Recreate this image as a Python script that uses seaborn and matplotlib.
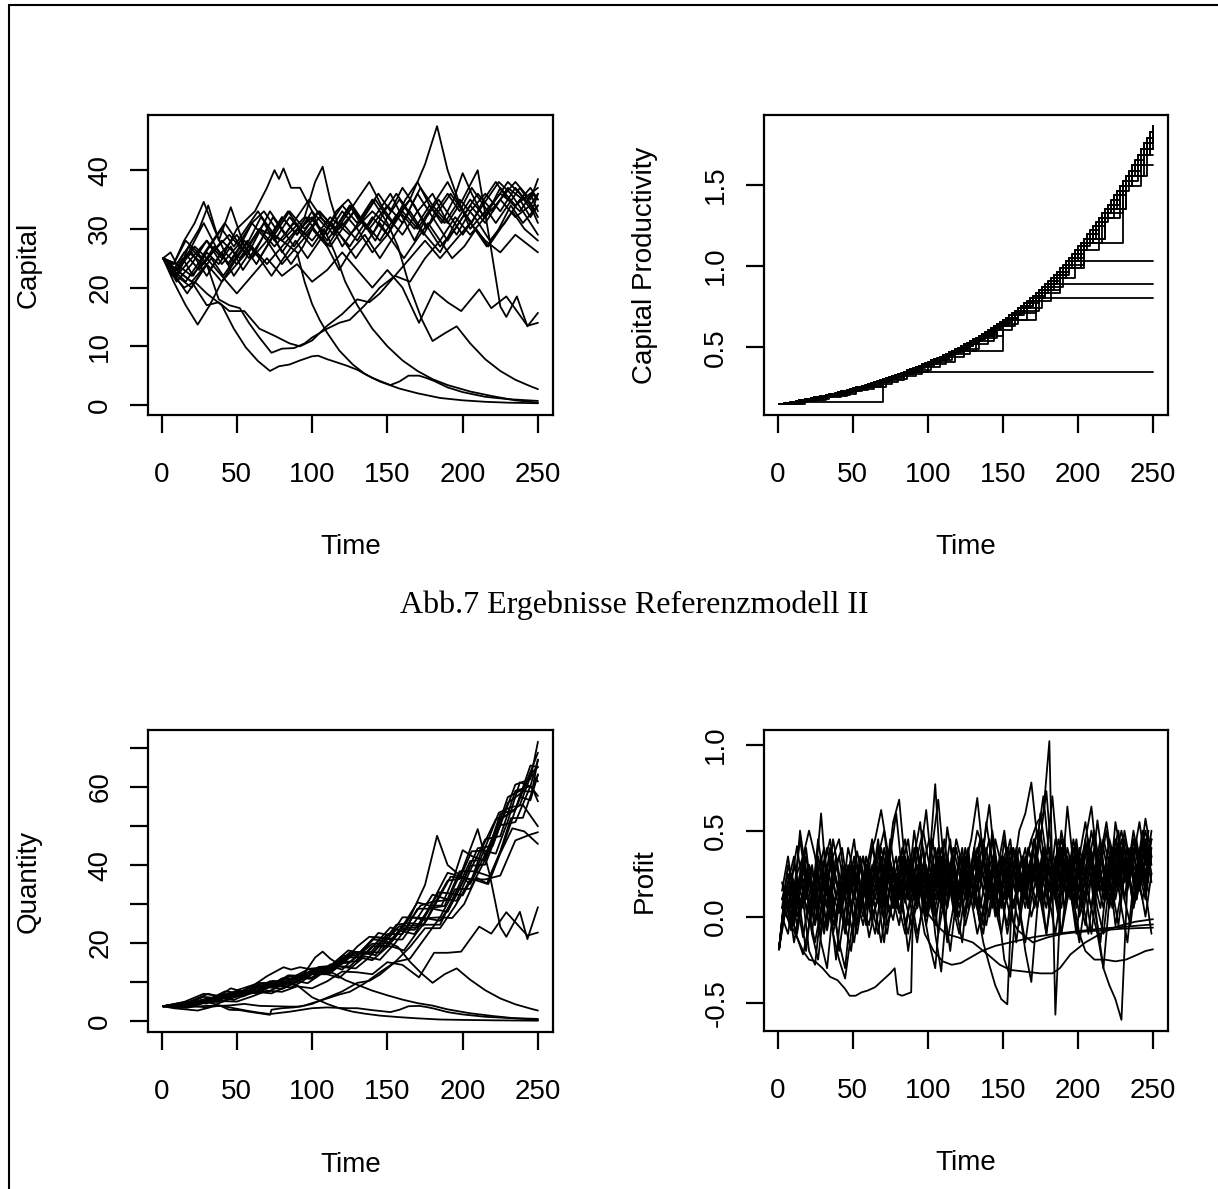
import matplotlib
matplotlib.use('Agg')
import pandas as pd
import matplotlib.pyplot as plt
import seaborn as sns
from matplotlib.lines import Line2D

sns.set_theme(style='ticks')
plt.rcParams['font.family'] = ['Liberation Sans', 'DejaVu Sans']

# ---- Capital, one list of (time, value) vertices per firm ----
capital_paths = [
    [(1,25),(8,22.5),(18,26),(28,24),(40,28),(52,25),(65,30),(75,27),(88,31),(100,28),(112,32),(125,29),(140,33),(152,30),(165,35),(175,41),(183,47.5),(190,40),(197,35),(205,30),(215,33),(225,36),(235,34),(245,37),(250,35)],
    [(1,25),(10,21),(20,24),(30,28),(40,25),(50,30),(62,33),(70,37),(75,40),(78,38.5),(81,40.3),(86,37),(92,37),(100,33),(110,27),(118,23),(125,26),(135,29),(145,25),(155,29),(165,33),(175,29),(185,26),(195,31),(205,35),(215,32),(225,37),(235,34),(245,36),(250,33)],
    [(1,25),(10,23),(22,27),(30,25),(45,29),(55,26),(65,30),(80,28),(95,32),(102,38),(107,40.6),(112,35),(118,30),(128,33),(138,30),(150,34),(160,31),(170,36),(180,32),(190,28),(200,32),(210,36),(220,33),(230,37),(240,35),(250,37)],
    [(1,25),(8,24),(15,28),(22,31),(28,34.6),(35,30),(42,26),(50,24),(58,27),(68,31),(75,28),(85,32),(95,29),(105,32),(115,30),(125,34),(132,31),(142,35),(150,32),(160,29),(170,33),(180,36),(188,32),(196,29),(205,33),(215,36),(225,33),(235,37),(245,34),(250,36)],
    [(1,25),(10,22),(18,27),(25,30),(31,34),(38,28),(46,33.7),(55,27),(63,24),(72,28),(80,32),(90,29),(98,32),(110,29),(120,33),(130,30),(140,26),(150,29),(158,33),(168,30),(178,34),(188,31),(198,35),(208,32),(218,28),(228,31),(238,35),(245,32),(250,34)],
    [(1,25),(8,21),(16,17),(24,13.7),(32,17),(40,21),(50,25),(58,28),(66,32),(75,29),(85,33),(95,30),(105,33),(115,30),(125,27),(135,31),(145,28),(155,32),(165,35),(175,31),(185,27),(195,30),(205,34),(215,31),(225,35),(235,38),(245,35),(250,38.5)],
    [(1,25),(10,23),(20,26),(30,22),(40,26),(50,29),(60,25),(70,28),(80,24),(90,27),(100,30),(110,27),(120,31),(130,28),(140,32),(150,29),(160,33),(170,30),(180,34),(190,31),(200,35),(210,40),(218,28),(225,16.8),(229,15),(236,18.5),(243,13.4),(250,15.7)],
    [(1,25),(10,24),(20,22),(30,25),(40,22),(50,19),(60,22),(70,25),(80,22),(90,24),(100,21),(110,23),(120,26),(130,23),(140,20),(150,23),(160,20),(171,14),(181,19.4),(190,17.5),(199,16),(211,19.7),(219,16.5),(229,18.5),(243,13.5),(250,14)],
    [(1,25),(10,22),(20,25),(30,28),(40,24),(50,27),(60,31),(70,28),(80,32),(90,29),(100,33),(110,30),(120,34),(130,31),(140,35),(150,31),(157,27),(165,20),(173,14.5),(180,10.9),(188,12.2),(196,13.4),(205,10.5),(215,7.8),(225,5.8),(235,4.3),(245,3.2),(250,2.7)],
    [(1,25),(8,23),(15,26),(25,23),(35,27),(45,24),(55,28),(65,25),(75,29),(85,27),(90,26),(95,21),(100,17.2),(105,14.5),(110,12.3),(118,9.3),(127,6.9),(135,5.3),(145,4),(158,2.8),(170,2),(185,1.2),(200,0.8),(215,0.55),(230,0.4),(250,0.3)],
    [(1,25),(8,22),(15,20),(22,21),(30,19),(40,17),(48,13),(56,9.8),(64,7.5),(72,5.8),(78,6.6),(85,6.9),(92,7.6),(100,8.3),(104,8.4),(110,7.8),(116,7.3),(123,6.7),(130,6.0),(140,4.6),(152,3.4),(158,4.0),(164,5.0),(171,5.0),(176,4.6),(181,4.1),(190,3.0),(200,2.2),(215,1.4),(230,1.0),(250,0.7)],
    [(1,25),(10,23),(20,21),(30,24),(40,21),(50,24),(60,27),(70,24),(80,27),(90,30),(100,27),(108,30),(115,26),(122,21),(130,17),(140,13),(150,10),(160,7.6),(170,5.8),(180,4.4),(190,3.4),(205,2.3),(220,1.5),(235,0.8),(250,0.4)],
    [(1,25),(10,22),(20,20),(30,24),(38,18),(45,17),(52,16.5),(58,14),(65,11.5),(73,8.9),(80,9.6),(88,9.7),(95,10.5),(100,11.5),(110,13),(118,14),(125,14.5),(135,17),(145,20),(155,22),(165,25),(175,28),(185,25),(195,28),(205,31),(215,28),(225,26),(235,29),(245,27),(250,26)],
    [(1,25),(10,23),(20,21),(30,17),(38,17.5),(45,16),(55,16),(65,13),(75,11.8),(85,10.5),(92,10),(100,11),(110,13.5),(120,15.5),(130,18),(138,17.5),(145,19),(155,22),(165,21),(175,25),(185,28),(195,32),(205,29),(215,32),(225,35),(235,32),(245,34),(250,31)],
    [(1,25),(6,26),(12,23),(20,27),(28,31),(36,27),(44,24),(52,27),(60,31),(68,33),(76,30),(84,33),(92,30),(100,32),(108,29),(116,33),(124,35),(132,32),(140,29),(148,33),(156,36),(164,33),(172,37),(180,34),(190,38),(198,34),(206,31),(214,35),(222,38),(230,35),(238,33),(246,36),(250,35)],
    [(1,25),(8,23),(16,21),(24,24),(32,27),(40,30),(48,27),(56,30),(64,33),(72,30),(80,26),(88,29),(96,32),(104,29),(112,27),(120,30),(128,33),(136,30),(144,33),(152,36),(160,32),(168,28),(176,32),(184,35),(192,32),(200,29),(208,32),(216,35),(224,38),(232,36),(240,33),(250,29)],
    [(1,25),(7,22),(14,25),(21,22),(30,26),(38,24),(46,27),(54,23),(62,26),(70,30),(78,27),(86,24),(94,27),(102,31),(110,28),(118,31),(126,34),(134,31),(142,28),(150,32),(158,35),(166,32),(174,29),(182,33),(190,36),(198,33),(206,37),(214,34),(222,31),(230,34),(238,37),(246,34),(250,32)],
    [(1,25),(10,24),(18,27),(26,25),(34,28),(42,31),(50,28),(58,25),(66,28),(74,32),(82,29),(90,32),(98,35),(106,32),(114,29),(122,32),(130,35),(138,38),(146,34),(154,31),(162,35),(170,38),(178,34),(186,31),(194,35),(200,39.5),(206,36),(214,32),(222,35),(230,38),(238,36),(246,33),(250,36)],
    [(1,25),(9,22),(17,19),(25,22),(33,25),(41,22),(49,25),(57,28),(65,25),(73,22),(81,25),(89,28),(97,25),(105,28),(113,31),(121,28),(129,25),(137,28),(145,31),(153,28),(161,25),(169,28),(177,31),(185,28),(193,25),(201,27),(209,30),(217,27),(225,30),(233,33),(241,30),(250,28)],
    [(1,25),(8,24),(16,28),(24,26),(32,23),(40,26),(48,22),(56,25),(64,29),(72,33),(80,30),(88,27),(96,30),(104,33),(112,31),(120,27),(128,30),(136,33),(144,36),(152,33),(160,37),(168,34),(176,30),(184,33),(192,36),(200,33),(208,30),(216,27),(224,30),(232,34),(240,31),(250,34)],
]

# ---- Quantity, same firms ----
quantity_paths = [
    [(1,3.8),(18,4.7),(40,6.5),(52,6.7),(65,8.9),(75,8.8),(88,11.3),(100,11.2),(112,14.5),(125,15.0),(140,19.8),(152,20.0),(165,26.6),(175,34.9),(183,47.5),(190,40),(197,37.7),(205,35.1),(215,42.7),(225,51.7),(235,54.2),(245,65.5),(250,65.1)],
    [(1,3.8),(20,4.4),(30,5.7),(40,5.8),(50,7.9),(62,9.4),(70,11.5),(81,13.8),(86,13.2),(92,13.8),(100,13.2),(110,12.0),(118,11.1),(125,13.4),(135,16.6),(145,15.7),(155,19.9),(165,25.1),(175,24.7),(185,24.7),(195,32.7),(205,41),(215,41.4),(225,53.1),(235,54.2),(245,63.7),(250,61.4)],
    [(1,3.8),(22,5.1),(30,5.1),(45,7.2),(55,7.1),(65,8.9),(80,9.5),(95,12.3),(102,16.3),(107,17.8),(112,16.0),(118,14.5),(128,17.6),(138,17.2),(150,22.3),(160,22.3),(170,28.8),(180,28.8),(190,28),(200,35.5),(210,44.3),(220,44.9),(230,55.9),(240,58.8),(250,68.8)],
    [(1,3.8),(15,4.9),(28,7.0),(42,6.2),(50,6.3),(58,7.7),(68,9.2),(75,9.1),(85,11.4),(95,11.2),(105,13.5),(115,14.0),(125,17.6),(132,17.7),(142,21.5),(150,21),(160,20.9),(170,26.4),(180,32.4),(188,31.4),(196,30.8),(205,38.6),(215,46.6),(225,47.4),(235,59),(245,60.2),(250,67)],
    [(1,3.8),(18,4.9),(31,7.0),(38,6.3),(46,8.4),(55,7.4),(63,7.1),(72,8.8),(80,10.9),(90,10.7),(98,12.3),(110,12.9),(120,16.2),(130,16.4),(140,15.6),(150,19),(158,23.4),(168,23.4),(178,28.9),(188,29.5),(198,38.4),(208,38.4),(218,37.1),(228,46.2),(238,57.5),(245,56.6),(250,63.2)],
    [(1,3.8),(8,3.3),(16,3.0),(24,2.7),(32,3.5),(40,4.9),(50,6.6),(58,7.9),(66,9.6),(75,9.4),(85,11.7),(95,11.6),(105,13.9),(115,14),(125,14),(135,17.7),(145,17.6),(155,22),(165,26.6),(175,26.4),(185,25.7),(195,31.7),(205,39.8),(215,40.1),(225,50.2),(235,60.6),(245,62),(250,71.6)],
    [(1,3.8),(20,4.8),(30,4.5),(40,6),(50,7.6),(60,7.1),(70,8.7),(80,8.2),(90,10),(100,12),(110,12),(120,15.2),(130,15.3),(140,19.2),(150,19),(160,23.8),(170,24),(180,30.6),(190,31),(200,38.9),(210,49.2),(218,37.5),(225,24.1),(229,21.6),(238,28),(243,21),(250,29.2)],
    [(1,3.8),(20,4.1),(30,5.1),(40,5.1),(50,5),(60,6.3),(70,7.8),(80,7.5),(90,8.9),(100,8.4),(110,10.2),(120,12.7),(130,12.5),(140,12),(150,15.1),(160,14.4),(171,11.2),(181,17.5),(190,17.5),(199,17.8),(211,24.2),(219,22.4),(229,27.9),(243,21.9),(250,22.7)],
    [(1,3.8),(10,3.7),(20,4.6),(30,5.7),(40,5.6),(50,7.1),(60,8.8),(70,8.7),(80,10.9),(90,10.7),(100,13.2),(110,13.4),(120,16.7),(130,16.9),(140,21),(150,20.3),(157,19),(165,15.2),(173,12.1),(180,9.8),(188,12),(196,13.5),(205,10.6),(215,7.9),(225,5.8),(235,4.3),(245,3.2),(250,2.7)],
    [(1,3.8),(15,4.6),(25,4.5),(35,5.9),(45,5.9),(55,7.6),(65,7.4),(75,9.4),(85,9.6),(90,9.2),(100,6.1),(110,4.4),(118,3.3),(127,2.4),(135,1.9),(145,1.4),(158,1.0),(170,0.7),(185,0.4),(200,0.3),(220,0.2),(250,0.1)],
    [(1,3.8),(15,3.5),(30,3.9),(40,3.9),(48,3.3),(56,2.7),(64,2.2),(72,1.8),(85,2.4),(100,3.3),(110,3.5),(123,3.3),(130,3.3),(140,2.8),(152,2.3),(158,2.9),(164,3.8),(171,3.9),(176,3.6),(181,3.2),(190,2.3),(200,1.7),(215,1.1),(230,0.8),(250,0.55)],
    [(1,3.8),(20,3.9),(30,4.9),(40,4.9),(50,6.3),(60,7.7),(70,7.4),(80,9.2),(90,11.1),(100,10.8),(108,13.1),(115,12.1),(122,10.5),(130,9.3),(140,7.8),(150,6.6),(160,5.5),(170,4.6),(180,3.96),(190,3.0),(205,2.0),(220,1.3),(235,0.7),(250,0.35)],
    [(1,3.8),(10,3.7),(20,3.7),(30,4.9),(38,4.1),(45,2.9),(52,2.8),(58,2.4),(65,2.0),(72,1.6),(73,2.9),(80,3.3),(88,3.5),(95,4.0),(100,4.6),(110,5.8),(118,6.8),(125,7.5),(135,9.7),(145,12.5),(155,15.1),(165,19),(175,23.8),(185,23.8),(195,29.5),(205,36.3),(215,36.3),(225,37.3),(235,46.3),(245,47.8),(250,48.4)],
    [(1,3.8),(10,3.9),(20,3.9),(30,3.5),(38,3.9),(45,4.0),(55,4.4),(65,3.9),(75,3.8),(85,3.7),(92,3.7),(100,4.4),(110,6.0),(120,7.6),(130,9.8),(138,10.3),(145,11.9),(155,15.1),(165,16),(175,21.3),(185,26.6),(195,33.8),(205,33.9),(215,41.4),(225,50.2),(235,51),(245,60.2),(250,57.7)],
    [(1,3.8),(12,4.0),(20,5.0),(28,6.2),(36,5.9),(44,5.9),(52,7.2),(60,8.8),(68,9.8),(76,9.8),(84,11.7),(92,11.3),(100,12.8),(108,12.9),(116,15.4),(124,18.1),(132,17.5),(140,17.4),(148,20.7),(156,24.7),(164,25.1),(172,29.6),(180,30.6),(190,38),(198,37.1),(206,36.3),(214,45.3),(222,51.7),(230,52.9),(238,55.4),(246,63.7),(250,65.1)],
    [(1,3.8),(16,3.7),(24,4.7),(32,5.7),(40,7.0),(48,6.6),(56,8.2),(64,9.8),(72,9.5),(80,8.8),(88,10.6),(96,12.4),(104,12.2),(112,12.3),(120,14.7),(128,17.3),(136,17.3),(144,20.6),(152,24),(160,23),(168,22.3),(176,27.4),(184,33),(192,32.7),(200,32.2),(208,37.9),(216,45.5),(224,53.4),(232,54.8),(240,55.4),(250,49.9)],
    [(1,3.8),(14,4.4),(21,4.1),(30,5.3),(38,5.4),(46,6.7),(54,6.3),(62,7.5),(70,9.3),(78,9.0),(86,8.6),(94,10.3),(102,12.8),(110,12.5),(118,14.8),(126,17.7),(134,17.5),(142,16.9),(150,21),(158,24.3),(166,24.5),(174,24.5),(182,30.5),(190,36),(198,36.4),(206,43.5),(214,43.7),(222,42.9),(230,51.3),(238,61.2),(246,60),(250,56.3)],
    [(1,3.8),(10,4.0),(18,4.9),(26,4.9),(34,6.0),(42,7.6),(50,7.3),(58,7.0),(66,8.4),(74,10.3),(82,9.8),(90,11.8),(98,13.4),(106,13.7),(114,13.4),(122,15.8),(130,19.1),(138,21.6),(146,21.4),(154,21.1),(162,25.5),(170,30.4),(178,29.6),(186,29.6),(194,36.7),(200,43.8),(206,42.3),(214,41.2),(222,48.3),(230,57.4),(238,59),(246,58.8),(250,67)],
    [(1,3.8),(9,3.7),(17,3.4),(25,4.3),(33,5.4),(41,5.2),(49,6.5),(57,7.8),(65,7.4),(73,7.1),(81,8.5),(89,10.3),(97,9.7),(105,11.8),(113,14.4),(121,13.8),(129,13.5),(137,16),(145,19.4),(153,19.1),(161,18.1),(169,22.4),(177,26.4),(185,26.6),(193,26.4),(201,30),(209,36.8),(217,35.1),(225,43),(233,49.4),(241,48.6),(250,45.4)],
    [(1,3.8),(16,4.9),(24,5.1),(32,4.9),(40,6.0),(48,5.4),(56,6.8),(64,8.6),(72,10.2),(80,10.2),(88,9.8),(96,11.5),(104,13.8),(112,14.1),(120,13.2),(128,16.2),(136,18.9),(144,22.6),(152,21.9),(160,26.6),(168,26.5),(176,25.8),(184,31.4),(192,37),(200,36.6),(208,36.2),(216,35.2),(224,42.3),(232,52),(240,52.1),(250,63.2)],
]

# ---- Capital productivity: best-practice level (t = 1, 2, 4, ..., 250) and each firm's update times ----
prod_time = [1] + list(range(2, 251, 2))
prod_level = [
    0.1520, 0.1535, 0.1566, 0.1598, 0.1631, 0.1664, 0.1698, 0.1732, 0.1767, 0.1803,
    0.1840, 0.1877, 0.1916, 0.1955, 0.1994, 0.2035, 0.2076, 0.2118, 0.2161, 0.2205,
    0.2250, 0.2296, 0.2343, 0.2390, 0.2439, 0.2489, 0.2540, 0.2591, 0.2644, 0.2698,
    0.2753, 0.2809, 0.2866, 0.2924, 0.2984, 0.3044, 0.3106, 0.3170, 0.3234, 0.3300,
    0.3367, 0.3436, 0.3505, 0.3577, 0.3649, 0.3724, 0.3799, 0.3876, 0.3955, 0.4036,
    0.4110, 0.4190, 0.4270, 0.4350, 0.4435, 0.4520, 0.4610, 0.4700, 0.4790, 0.4885,
    0.4980, 0.5075, 0.5175, 0.5275, 0.5380, 0.5485, 0.5595, 0.5705, 0.5820, 0.5935,
    0.6055, 0.6175, 0.6300, 0.6425, 0.6555, 0.6685, 0.6820, 0.6960, 0.7100, 0.7245,
    0.7395, 0.7545, 0.7700, 0.7860, 0.8020, 0.8185, 0.8355, 0.8530, 0.8710, 0.8890,
    0.9075, 0.9265, 0.9460, 0.9660, 0.9865, 1.0075, 1.0290, 1.0510, 1.0735, 1.0965,
    1.1200, 1.1440, 1.1685, 1.1935, 1.2190, 1.2454, 1.2707, 1.2965, 1.3229, 1.3498,
    1.3772, 1.4052, 1.4337, 1.4628, 1.4926, 1.5229, 1.5538, 1.5854, 1.6176, 1.6505,
    1.6840, 1.7182, 1.7531, 1.7888, 1.8251, 1.8622,
]
prod_updates = [
    [1,8,16,22,30,38,44,52,60,68,76,84],
    [1,6,14,24,32,40,50,58,66,74,82,92,100,108,116,124,132,140,148,156,164,168],
    [1,10,18,26,36,44,54,62,70,80,88,96,106,114,122,130,138,146,154,160,168,178],
    [1,4,12,20,28,34,42,50,56,64,72,78,86,94,102,110,118,126,134,142,150,158,166,174,182,192],
    [1,10,70,76,84,92,100,108,114,122,130,138,146,152,160,168,176,184,192,198,206,214,220,228,236,242,250],
    [1,8,18,28,36,46,54,62,70,78,86,94,102,110,116,150,172,180,188,196,204,212,220,228,236,244,250],
    [1,6,16,24,34,42,50,60,68,76,86,94,102,112,120,128,136,144,152,160,168,176,184,192,202,230,236],
    [1,4,10,16,22,28,34,40,46,52,58,64,70,76,82,88,94,100,106,112,118,124,130,136,142,148,154,
     160,166,172,178,184,190,196,202,208,214,220,226,232,240],
    [1,8,14,20,26,32,40,48,56,62,68,74,80,88,96,104,110,116,122,128,136,144,150,156,162,170,178,
     186,194,200,206,212,218,224,230,236,242],
    [1,12,22,30,38,46,54,64,72,80,90,98,104,112,118,126,134,142,148,154,162,170,178,186,194,202,
     210,216,222,228,234,240,246],
    [1,6,12,18,24,30,36,42,48,54,60,66,72,78,84,90,96,102,108,114,120,126,132,138,144,150,156,162,
     168,174,180,186,192,198,204,210,216,222,228,234,238,242,246,250],
    [1,10,20,30,40,52,72,80,88,96,104,112,120,128,136,146,154,162,170,178,186,194,202,210,218,226,
     234,242,248,250],
    [1,4,14,24,34,44,54,64,74,84,94,104,114,124,134,144,154,164,174,184,194,204,214,224,232,240,248,250],
    [1,6,14,22,30,40,48,56,64,72,80,88,96,104,112,120,128,136,144,152,160,168,176,184,192,200,208,
     214,220,226,232,238,244,250],
    [1,2,8,16,24,32,40,48,56,64,72,80,86,92,98,104,110,116,122,128,134,140,146,152,158,164,170,176,
     182,188,194,200,206,212,218,224,230,236,240,244,248,250],
    [1,14,30,46,60,76,92,108,124,140,156,172,188,204,218,232,246],
    [1,18,34,52,68,84,100,118,134,150,166,182,198,214,228,242],
    [1,12,26,42,56,70,86,102,116,132,146,160,176,190,204,218,232,244,250],
    [1,16,32,48,64,80,96,112,128,144,158,174,188,202,216,230,240,248],
]

# ---- Profit: noisy firms on two interleaved 4-step grids, plus the slowly drifting loss makers ----
profit_time = list(range(1, 250, 4))
profit_time_b = list(range(3, 250, 4))
profit_noisy = [
    [-0.19,0.12,0.18,0.05,0.22,0.10,-0.05,0.15,0.30,0.12,0.02,0.20,0.08,-0.10,0.12,0.25,0.10,0.35,0.18,0.05,
     0.22,0.10,-0.05,0.15,0.30,0.20,0.05,0.25,0.12,0.30,0.18,0.02,0.22,0.35,0.15,0.28,0.10,0.30,0.20,0.38,
     0.15,0.30,0.45,0.55,0.60,1.02,-0.57,0.20,0.35,0.15,0.30,0.42,0.20,0.35,0.10,0.30,0.45,0.25,0.40,0.20,
     0.35,0.50,0.30],
    [-0.19,0.15,0.25,0.10,0.30,0.05,0.20,0.60,0.15,-0.10,0.10,0.25,0.05,0.20,0.35,0.12,0.28,0.05,0.30,0.15,
     0.02,0.25,0.35,0.10,0.22,0.05,0.30,0.15,0.35,0.20,0.05,0.30,0.45,0.69,0.35,0.15,0.30,0.05,0.25,0.40,
     0.20,0.05,0.30,0.15,0.35,0.25,0.10,0.40,0.25,0.05,0.30,0.20,0.38,0.15,0.30,0.05,0.25,0.40,0.15,0.35,
     0.20,0.45,0.25],
    [-0.19,0.10,0.20,0.41,0.15,-0.05,0.10,0.25,0.05,0.30,0.15,-0.05,0.20,0.30,0.10,0.25,0.05,0.20,0.40,0.25,
     0.10,0.30,0.15,0.35,0.50,0.30,0.77,0.20,0.05,0.30,0.15,0.40,0.20,0.05,0.30,0.45,0.20,0.35,0.10,0.25,
     0.40,0.20,0.35,0.15,0.40,0.30,0.15,0.35,0.20,0.45,0.25,0.10,0.35,0.20,0.45,0.30,0.15,0.40,0.25,0.50,
     0.30,0.15,0.40],
    [-0.19,0.14,0.05,0.25,0.35,0.50,0.35,0.10,-0.05,0.20,0.35,0.15,0.30,0.05,0.20,0.35,0.45,0.62,0.40,0.20,
     0.35,0.10,0.25,0.40,0.15,0.30,0.10,0.35,0.20,0.40,0.25,0.10,0.30,0.15,0.35,0.20,0.05,0.30,0.40,0.25,
     0.50,0.60,0.78,0.45,0.70,0.35,0.25,0.45,0.30,0.15,0.40,0.25,0.50,0.30,0.20,0.45,0.30,0.15,0.40,0.35,
     0.55,0.30,0.45],
    [-0.19,0.10,-0.05,0.15,0.05,0.25,0.10,-0.10,0.20,0.35,0.45,0.20,0.05,0.25,0.10,0.30,0.15,0.40,0.25,0.55,
     0.68,0.30,0.10,0.25,0.05,0.30,0.15,0.40,0.25,0.10,0.35,0.20,0.30,0.50,0.40,0.65,0.30,0.15,0.35,0.20,
     0.05,0.30,0.45,0.25,0.10,0.35,0.20,0.50,0.30,0.10,0.35,0.55,0.30,0.15,0.40,0.20,0.35,0.50,0.30,0.10,
     0.40,0.25,0.50],
    [-0.19,0.08,0.00,-0.10,0.12,0.02,-0.15,0.05,0.20,-0.05,0.10,-0.10,0.15,0.25,0.05,-0.05,0.18,0.30,0.10,-0.02,
     0.20,0.08,0.30,0.05,0.25,0.10,-0.05,0.20,0.35,0.15,0.00,0.25,0.10,0.30,0.15,0.00,0.20,0.35,0.15,0.05,
     0.25,0.10,0.30,0.20,0.40,0.15,0.35,0.20,0.64,0.30,0.15,0.45,0.64,0.30,0.15,0.35,0.20,0.45,0.30,0.10,
     0.35,0.20,0.45],
    [-0.19,0.10,0.02,-0.12,-0.22,-0.05,0.10,-0.15,-0.30,0.05,0.20,-0.05,-0.20,0.10,0.25,0.05,-0.10,0.15,0.30,0.10,
     -0.05,0.20,0.05,-0.15,0.10,0.25,-0.10,-0.32,0.10,0.30,0.15,0.00,0.20,0.05,-0.10,0.15,0.30,0.10,-0.05,0.20,
     0.05,-0.15,0.10,0.25,0.05,0.30,0.10,-0.10,0.20,0.35,0.10,-0.05,0.25,0.05,-0.10,0.20,0.40,0.15,0.30,0.05,
     0.25,0.10,0.35],
    [-0.19,0.12,0.20,0.00,0.15,0.30,0.10,-0.05,0.20,0.05,-0.15,-0.30,0.05,0.20,0.35,0.10,0.25,0.05,-0.10,0.15,
     0.30,0.45,0.20,0.05,0.30,0.15,0.40,0.20,0.05,0.25,0.10,0.30,0.20,0.05,-0.15,-0.28,-0.40,-0.48,-0.51,0.30,
     0.15,0.35,0.20,0.05,0.30,0.40,0.20,0.05,0.30,0.15,0.35,0.20,0.05,0.30,0.15,0.35,0.10,0.30,0.20,0.45,
     0.25,0.40,0.20],
    [-0.19,0.15,0.05,0.20,0.10,0.30,0.20,0.35,0.15,0.45,0.25,0.10,0.30,0.15,0.00,0.20,0.35,0.15,0.30,0.05,
     0.20,0.10,0.30,0.20,0.40,0.15,0.30,0.05,0.20,0.35,0.15,0.30,0.10,0.25,0.45,0.20,0.35,0.15,0.30,0.05,
     0.25,0.40,0.15,0.35,0.20,0.05,0.30,0.15,0.40,0.25,0.10,0.20,0.05,-0.10,-0.30,-0.40,-0.48,-0.60,0.20,0.40,
     0.15,0.35,0.45],
    [-0.19,0.10,0.15,-0.05,0.10,-0.20,-0.28,0.05,0.15,-0.10,-0.25,-0.36,-0.10,0.10,-0.05,0.15,0.05,-0.15,0.10,0.25,
     0.05,-0.10,0.15,0.30,0.05,-0.15,-0.30,0.10,0.25,0.05,-0.10,0.15,0.30,0.10,-0.05,0.20,0.05,-0.10,0.15,0.30,
     0.05,-0.20,-0.38,0.05,0.25,0.10,-0.10,0.15,0.30,0.05,-0.15,0.10,0.25,-0.05,-0.30,0.10,0.30,0.05,-0.15,0.20,
     0.35,0.15,-0.10],
    [-0.19,0.13,0.25,0.15,0.35,0.20,0.05,0.25,0.40,0.20,0.05,0.30,0.15,0.38,0.20,0.05,0.30,0.15,0.40,0.25,
     0.10,0.35,0.20,0.05,0.30,0.45,0.25,0.10,0.52,0.30,0.10,0.35,0.20,0.40,0.25,0.10,0.45,0.30,0.15,0.40,
     0.25,0.10,0.35,0.50,0.30,0.15,0.45,0.30,0.10,0.40,0.25,0.45,0.20,0.56,0.30,0.15,0.55,0.35,0.20,0.45,
     0.30,0.57,0.35],
    [-0.19,0.05,-0.08,0.08,-0.12,0.10,-0.02,0.20,-0.08,0.12,-0.20,0.05,0.20,-0.05,0.10,-0.12,0.05,0.20,-0.05,0.10,
     0.25,-0.05,0.12,-0.10,0.05,0.20,0.00,0.15,-0.15,0.05,0.20,-0.05,0.10,-0.10,0.05,0.25,0.00,0.15,-0.10,0.10,
     -0.05,0.20,0.00,0.15,0.35,0.05,0.20,-0.10,0.10,0.25,0.00,0.15,-0.10,0.20,0.05,0.25,-0.05,0.15,0.30,0.05,
     0.20,0.00,0.25],
]
profit_noisy_b = [
    [0.10,0.25,-0.05,0.20,0.40,0.10,0.30,-0.10,0.15,0.35,0.05,0.25,0.45,0.15,-0.05,0.30,0.10,0.40,0.20,0.05,
     0.35,0.15,0.50,0.25,0.05,0.30,0.10,0.45,0.20,0.00,0.35,0.15,0.40,0.05,0.25,0.45,0.15,0.35,0.10,0.40,
     0.20,0.05,0.30,0.50,0.25,0.10,0.40,0.15,0.35,0.05,0.30,0.45,0.20,0.40,0.10,0.35,0.50,0.20,0.40,0.15,
     0.45,0.25],
    [0.05,0.30,0.15,0.45,0.20,-0.10,0.25,0.40,0.10,-0.05,0.30,0.15,0.35,0.05,0.25,0.45,0.20,0.00,0.35,0.60,
     0.25,0.10,0.40,0.15,0.30,0.05,0.35,0.20,0.45,0.10,0.25,0.40,0.05,0.30,0.15,0.50,0.25,0.10,0.40,0.20,
     0.35,0.05,0.45,0.20,0.35,0.70,0.30,0.45,0.15,0.40,0.20,0.35,0.10,0.30,0.50,0.20,0.40,0.10,0.35,0.25,
     0.50,0.30],
    [0.00,-0.10,0.15,0.05,-0.20,0.10,0.25,-0.05,0.05,-0.25,0.10,0.20,-0.05,0.15,0.30,0.00,0.10,-0.15,0.20,0.35,
     0.05,-0.10,0.15,0.30,0.05,0.20,-0.10,0.10,0.25,0.05,-0.15,0.20,0.35,0.10,-0.05,0.15,0.00,0.25,0.10,-0.15,
     0.15,0.30,0.05,0.20,-0.10,0.15,0.30,0.05,0.25,0.40,0.10,-0.10,0.20,0.05,0.30,0.15,-0.05,0.25,0.40,0.10,
     0.30,0.15],
    [0.15,0.35,0.10,0.50,0.25,0.05,0.35,0.15,0.40,0.20,0.05,0.30,0.10,0.35,0.15,0.40,0.25,0.05,0.45,0.20,
     0.30,0.10,0.35,0.55,0.20,0.40,0.68,0.30,0.15,0.40,0.20,0.35,0.10,0.45,0.25,0.05,0.30,0.50,0.20,0.35,
     0.15,0.40,0.25,0.60,0.35,0.15,0.45,0.30,0.10,0.40,0.25,0.45,0.15,0.35,0.55,0.30,0.15,0.40,0.25,0.45,
     0.20,0.50],
    [-0.05,0.10,-0.15,0.05,0.20,-0.10,-0.25,0.05,0.15,-0.05,0.20,0.05,-0.15,0.10,0.30,0.05,-0.10,0.15,0.00,0.25,
     0.10,-0.20,0.05,0.20,-0.05,0.15,0.30,0.05,-0.20,0.10,0.25,0.05,0.20,-0.05,0.10,0.30,0.05,-0.25,-0.35,0.10,
     0.25,0.05,0.30,0.10,-0.10,0.20,0.05,0.30,0.15,-0.10,0.20,0.35,0.05,-0.15,0.20,0.05,0.30,0.10,-0.05,0.25,
     0.10,0.30],
    [0.20,0.05,0.30,0.15,0.35,0.10,0.45,0.20,0.05,0.30,0.40,0.15,0.30,0.05,0.35,0.20,0.45,0.15,0.30,0.05,
     0.40,0.25,0.10,0.35,0.15,0.45,0.25,0.05,0.30,0.20,0.40,0.10,0.30,0.45,0.20,0.35,0.05,0.30,0.45,0.15,
     0.35,0.20,0.45,0.10,0.35,0.25,0.05,0.40,0.20,0.45,0.15,0.30,0.50,0.25,0.10,0.40,0.20,0.45,0.30,0.10,
     0.40,0.30],
    [0.10,0.20,0.35,0.05,0.25,0.15,0.00,0.30,0.45,0.20,0.10,0.40,0.25,0.05,0.30,0.15,0.35,0.50,0.20,0.10,
     0.30,0.45,0.15,0.35,0.62,0.25,0.10,0.35,0.20,0.45,0.30,0.10,0.40,0.20,0.55,0.30,0.15,0.45,0.20,0.35,
     0.10,0.40,0.25,0.45,0.73,0.30,0.15,0.40,0.20,0.35,0.10,0.40,0.25,0.45,0.15,0.35,0.20,0.50,0.30,0.15,
     0.35,0.45],
    [0.05,0.15,0.00,0.25,0.10,0.30,0.05,0.20,0.35,0.10,0.25,-0.05,0.15,0.30,0.10,0.20,0.40,0.10,0.25,0.05,
     0.20,0.35,0.10,0.25,0.00,0.20,0.40,0.15,0.30,0.05,0.20,0.35,0.10,0.25,0.40,0.15,0.30,0.05,0.20,0.35,
     0.10,0.25,0.45,0.20,0.05,0.30,0.15,0.40,0.20,0.35,0.05,0.25,0.40,0.15,0.30,0.10,0.45,0.20,0.35,0.10,
     0.30,0.20],
]
profit_smooth = [
    [(1,-0.19),(5,0.02),(9,-0.05),(13,-0.12),(17,-0.2),(21,-0.25),(25,-0.26),(30,-0.3),(35,-0.35),(40,-0.37),
     (45,-0.42),(48,-0.46),(52,-0.46),(56,-0.44),(60,-0.43),(65,-0.41),(70,-0.37),(75,-0.33),(78,-0.3),(80,-0.45),
     (83,-0.46),(86,-0.45),(89,-0.44),(90,-0.02),(94,0.1),(98,-0.1),(104,-0.2),(110,-0.26),(116,-0.28),(122,-0.27),
     (128,-0.24),(136,-0.2),(145,-0.17),(155,-0.15),(170,-0.12),(185,-0.1),(200,-0.085),(215,-0.07),(230,-0.06),(250,-0.045)],
    [(95,0.15),(100,0.02),(106,-0.05),(112,-0.1),(120,-0.12),(130,-0.15),(140,-0.22),(148,-0.28),(155,-0.31),
     (165,-0.32),(175,-0.33),(183,-0.33),(188,-0.3),(195,-0.22),(205,-0.15),(215,-0.1),(225,-0.06),(238,-0.03),(250,-0.015)],
    [(193,0.35),(197,0.1),(201,-0.1),(205,-0.2),(211,-0.25),(218,-0.25),(225,-0.26),(232,-0.25),(240,-0.22),(245,-0.2),(250,-0.19)],
    [(150,0.2),(155,0.0),(160,-0.08),(170,-0.15),(180,-0.12),(190,-0.1),(200,-0.09),(215,-0.08),(230,-0.07),(250,-0.064)],
]

time_ticks = [0, 50, 100, 150, 200, 250]
caption = 'Abb.7 Ergebnisse Referenzmodell II'


def long_frame(paths):
    rows = []
    for k, path in enumerate(paths):
        for t, v in path:
            rows.append((k, t, v))
    return pd.DataFrame(rows, columns=['path', 'time', 'value'])


# productivity: each firm keeps the best-practice level of its last update
level_at = dict(zip(prod_time, prod_level))
prod_paths = []
for jumps in prod_updates:
    pts = [(t, level_at[t]) for t in jumps]
    if jumps[-1] != 250:
        pts.append((250, level_at[jumps[-1]]))
    prod_paths.append(pts)

profit_paths = ([list(zip(profit_time, vals)) for vals in profit_noisy]
                + [list(zip(profit_time_b, vals)) for vals in profit_noisy_b]
                + profit_smooth)

df_cap = long_frame(capital_paths)
df_qty = long_frame(quantity_paths)
df_prod = long_frame(prod_paths)
df_prof = long_frame(profit_paths)

W, H = 1218, 1189
fig = plt.figure(figsize=(W / 100, H / 100), dpi=100)


def panel(x0, y0, x1, y1):
    return fig.add_axes([x0 / W, 1 - y1 / H, (x1 - x0) / W, (y1 - y0) / H])


ax_cap = panel(148, 115, 553, 415)
ax_prod = panel(764, 115, 1168, 415)
ax_qty = panel(148, 730, 553, 1032)
ax_prof = panel(764, 730, 1168, 1031)

line_kw = dict(x='time', y='value', units='path', estimator=None, color='black',
               linewidth=1.3, legend=False)
sns.lineplot(data=df_cap, ax=ax_cap, **line_kw)
sns.lineplot(data=df_prod, ax=ax_prod, drawstyle='steps-post', **line_kw)
sns.lineplot(data=df_qty, ax=ax_qty, **line_kw)
sns.lineplot(data=df_prof, ax=ax_prof, **line_kw)


def style_axes(ax, ylabel, ylim, yticks, ylabels):
    ax.set_xlim(-9, 260)
    ax.set_ylim(*ylim)
    ax.set_xticks(time_ticks, labels=[str(t) for t in time_ticks])
    ax.set_yticks(yticks, labels=ylabels, rotation=90, va='center')
    for s in ax.spines.values():
        s.set_visible(True)
        s.set_linewidth(1.6)
        s.set_color('black')
    ax.tick_params(axis='both', direction='out', length=13, width=1.6, color='black',
                   labelsize=20, labelcolor='black')
    ax.tick_params(axis='x', pad=21)
    ax.tick_params(axis='y', pad=12)
    ax.set_xlabel('Time', fontsize=20, color='black')
    ax.set_ylabel(ylabel, fontsize=20, color='black')
    ax.xaxis.set_label_coords(0.5, -0.44)
    ax.xaxis.label.set_va('center')
    ax.yaxis.set_label_coords(-0.294, 0.5)
    ax.yaxis.label.set_va('center')


style_axes(ax_cap, 'Capital', (-1.7, 49.4), [0, 10, 20, 30, 40], ['0', '10', '20', '30', '40'])
style_axes(ax_prod, 'Capital Productivity', (0.084, 1.928), [0.5, 1.0, 1.5], ['0.5', '1.0', '1.5'])
style_axes(ax_qty, 'Quantity', (-2.8, 74.6), [0, 10, 20, 30, 40, 50, 60, 70],
           ['0', '', '20', '', '40', '', '60', ''])
style_axes(ax_prof, 'Profit', (-0.665, 1.085), [-0.5, 0.0, 0.5, 1.0], ['-0.5', '0.0', '0.5', '1.0'])

fig.text(634 / W, 1 - 605 / H, caption, family=['Liberation Serif', 'DejaVu Serif'],
         fontsize=23, ha='center', va='center', color='black')

# page frame (top and left edges are visible in the scan)
fig.add_artist(Line2D([8.5 / W, 1], [1 - 5 / H, 1 - 5 / H], transform=fig.transFigure, color='black', lw=1.5))
fig.add_artist(Line2D([8.5 / W, 8.5 / W], [0, 1 - 5 / H], transform=fig.transFigure, color='black', lw=1.5))

fig.savefig('out.png', dpi=100, facecolor='white')
